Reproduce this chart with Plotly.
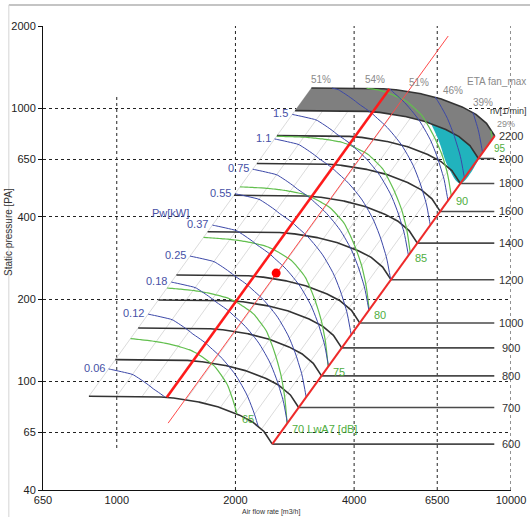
import numpy as np
import plotly.graph_objects as go

FONT = "Liberation Sans, Arial, sans-serif"

# ---------------- axes ----------------
x_tick_vals = [650, 1000, 2000, 4000, 6500, 10000]
y_tick_vals = [40, 65, 100, 200, 400, 650, 1000, 2000]
x_range = [650, 10000]
y_range = [40, 2000]
x_grid_full = [2000, 4000, 6500, 10000]
x_grid_partial = [1000]
x_grid_partial_p = [57, 1117]

# ---------------- fan characteristic at 600 rpm ----------------
base_speed = 600
base_q = [850, 1000, 1150, 1340, 1535, 1755, 1975, 2180, 2350, 2480]
base_p = [88.2, 88.2, 88.1, 87.5, 85.3, 81.8, 77.1, 72.1, 66.3, 58.9]
speeds = [600, 700, 800, 900, 1000, 1200, 1400, 1600, 1800, 2000, 2200]
speed_labels = ["600", "700", "800", "900", "1000", "1200", "1400", "1600", "1800", "2000", "2200"]
speed_line_end_q = 9070
speed_label_q = 10000

# shaft power at 600 rpm along the base curve
pw_q = [850, 1000, 1200, 1400, 1600, 1800, 2000, 2200, 2480]
pw_600 = [0.0425, 0.0455, 0.0545, 0.0635, 0.073, 0.084, 0.097, 0.113, 0.138]
pw_levels = [0.06, 0.12, 0.18, 0.25, 0.37, 0.55, 0.75, 1.1, 1.5, 2.2, 3.0, 4.0, 5.5]
pw_labels = ["0.06", "0.12", "0.18", "0.25", "0.37", "0.55", "0.75", "1.1", "1.5", "", "", "", ""]

# sound power at 600 rpm along the base curve, and its speed exponent
lw_q = [850, 1000, 1100, 1260, 1535, 1750, 1960, 2250, 2480]
lw_600 = [59.3, 59.65, 59.95, 60.5, 61.8, 63.1, 64.6, 66.6, 68.2]
lw_exp_q = [850, 2480]
lw_exp = [54, 48]
lw_levels = [65, 70, 75, 80, 85, 90, 95]
lw_labels = ["65", "70 LwA7 [dB]", "75", "80", "85", "90", "95"]

# system (efficiency) lines, given by their base flow at 600 rpm
sys_q = [850, 1000, 1160, 1330, 1500, 1670, 1830, 2000, 2180, 2330]
eta_q = [850, 1160, 1500, 1830, 2180, 2480]
eta_labels = ["51%", "54%", "51%", "46%", "39%", "29%"]

# operating point / system curves
op_line_qb = 1340
thin_red_q = [1350, 6930]
thin_red_p = [70.3, 1838]
op_q = [2537]
op_p = [249]

# cyan zone (left edge)
cyan_q = [6200, 6550, 6930, 7440]
cyan_p = [905, 764, 609, 530]

# ---------------- helpers (fan affinity laws) ----------------
r_max = max(speeds) / base_speed
lq, lp = np.log10(base_q), np.log10(base_p)


def p_on_base(qb):
    return 10 ** np.interp(np.log10(qb), lq, lp)


def at_speed_ratio(qb, r):
    qb = np.asarray(qb, dtype=float)
    return qb * r, p_on_base(qb) * r ** 2


qb_dense = np.geomspace(base_q[0], base_q[-1], 400)

fig = go.Figure()


def line(q, p, color, width, dash=None, shape="linear"):
    fig.add_trace(go.Scatter(x=list(q), y=list(p), mode="lines",
                             line=dict(color=color, width=width, dash=dash, shape=shape),
                             hoverinfo="skip", showlegend=False))


def thin(q, p, step=8):
    idx = list(range(0, len(q), step))
    if idx[-1] != len(q) - 1:
        idx.append(len(q) - 1)
    return [float(q[i]) for i in idx], [float(p[i]) for i in idx]


ann = []


def text(q, p, s, color, size=11, xanchor="center", yanchor="middle", xshift=0, yshift=0):
    ann.append(dict(x=float(np.log10(q)), y=float(np.log10(p)), xref="x", yref="y", text=s,
                    showarrow=False, font=dict(family=FONT, size=size, color=color),
                    xanchor=xanchor, yanchor=yanchor, xshift=xshift, yshift=yshift))


# vertical grid
for v in x_grid_full:
    line([v, v], y_range, "#222222", 1, "dot")
for v in x_grid_partial:
    line([v, v], x_grid_partial_p, "#222222", 1, "dot")

# system lines
for qb in sys_q:
    q0, p0 = at_speed_ratio(qb, 1.0)
    q1, p1 = at_speed_ratio(qb, r_max)
    line([q0, q1], [p0, p1], "#d2d2d2", 0.8)

# gray band between the two top speeds
qa, pa = at_speed_ratio(qb_dense, speeds[-1] / base_speed)
qb2, pb2 = at_speed_ratio(qb_dense, speeds[-2] / base_speed)
fig.add_trace(go.Scatter(x=list(qa) + list(qb2[::-1]), y=list(pa) + list(pb2[::-1]),
                         mode="lines", fill="toself", fillcolor="#7f7f7f",
                         line=dict(width=0), hoverinfo="skip", showlegend=False))

# cyan zone
m = qb2 >= cyan_q[0]
cq = list(cyan_q) + [float(x) for x in qb2[m][::-1]]
cp = list(cyan_p) + [float(x) for x in pb2[m][::-1]]
fig.add_trace(go.Scatter(x=cq, y=cp, mode="lines", fill="toself", fillcolor="#21b3bd",
                         line=dict(width=0, shape="spline"), hoverinfo="skip", showlegend=False))

# speed curves
for n, lab in zip(speeds, speed_labels):
    r = n / base_speed
    q, p = at_speed_ratio(qb_dense, r)
    if n != speeds[-1]:
        line([q[-1], speed_line_end_q], [p[-1], p[-1]], "#4a4a4a", 1.6)
    line(q, p, "#333333", 1.6)
    text(speed_label_q, p[-1], lab, "#333333", 11)

# sound curves
lw_d = np.interp(qb_dense, lw_q, lw_600)
k_d = np.interp(qb_dense, lw_exp_q, lw_exp)
for L, lab in zip(lw_levels, lw_labels):
    r = 10 ** ((L - lw_d) / k_d)
    mk = (r >= 1) & (r <= r_max)
    q = qb_dense[mk] * r[mk]
    p = p_on_base(qb_dense[mk]) * r[mk] ** 2
    tq, tp = thin(q, p)
    line(tq, tp, "#62bf4e", 1.2, shape="spline")
    if L == 95:
        text(q[-1], p[-1], lab, "#4fae3e", 10, xanchor="left", xshift=0, yshift=-9)
    else:
        text(q[-1], p[-1], lab, "#4fae3e", 11, xanchor="left", xshift=3, yshift=-5)

# power curves
pw_d = 10 ** np.interp(qb_dense, pw_q, np.log10(pw_600))
for P, lab in zip(pw_levels, pw_labels):
    r = (P / pw_d) ** (1 / 3)
    mk = (r >= 1) & (r <= r_max)
    q = qb_dense[mk] * r[mk]
    p = p_on_base(qb_dense[mk]) * r[mk] ** 2
    tq, tp = thin(q, p)
    line(tq, tp, "#3c48a8", 1.0, shape="spline")
    if lab:
        text(q[0], p[0], lab, "#4650a6", 11, xanchor="right", xshift=-2, yshift=1)
text(1365, 412, "Pw[kW]", "#4650a6", 11)

# red lines
q0, p0 = at_speed_ratio(base_q[-1], 1.0)
q1, p1 = at_speed_ratio(base_q[-1], r_max)
line([q0, q1], [p0, p1], "#ee2a2a", 2)
q0, p0 = at_speed_ratio(op_line_qb, 1.0)
q1, p1 = at_speed_ratio(op_line_qb, r_max)
line([q0, q1], [p0, p1], "#ff1a1a", 2.5)
line(thin_red_q, thin_red_p, "#ff4a4a", 1)
fig.add_trace(go.Scatter(x=op_q, y=op_p, mode="markers",
                         marker=dict(color="#ff0000", size=9), hoverinfo="skip", showlegend=False))

# efficiency labels
for qb, lab in zip(eta_q, eta_labels):
    qt, pt = at_speed_ratio(qb, r_max)
    if lab == eta_labels[-1] and qb == eta_q[-1]:
        text(float(qt), float(pt), lab, "#8a8a8a", 9, xshift=11, yshift=12)
    else:
        text(float(qt), float(pt), lab, "#8a8a8a", 10, xshift=10, yshift=9)

ann.append(dict(x=(528 - 43) / 468, y=float(np.log10(1257)), xref="paper", yref="y",
                text="ETA fan_max", showarrow=False, xanchor="right", yanchor="middle",
                font=dict(family=FONT, size=10, color="#8a8a8a")))
ann.append(dict(x=(529 - 43) / 468, y=float(np.log10(975)), xref="paper", yref="y",
                text="nv[1/min]", showarrow=False, xanchor="right", yanchor="middle",
                font=dict(family=FONT, size=9, color="#333333")))

ann.append(dict(x=-0.075, y=0.556, xref="paper", yref="paper", text="Static pressure [PA]",
                textangle=-90, showarrow=False, xanchor="center", yanchor="middle",
                font=dict(family=FONT, size=10, color="#333333")))
ann.append(dict(x=0.487, y=-0.047, xref="paper", yref="paper", text="Air flow rate [m3/h]",
                showarrow=False, xanchor="center", yanchor="middle",
                font=dict(family=FONT, size=7, color="#333333")))

fig.update_layout(
    width=530, height=517,
    margin=dict(l=43, r=19, t=26, b=27, autoexpand=False),
    paper_bgcolor="white", plot_bgcolor="white",
    annotations=ann,
    shapes=[
        dict(type="line", xref="paper", yref="paper", x0=-0.073, x1=1.1, y0=1.045, y1=1.045,
             line=dict(color="#c4c4c4", width=2)),
        dict(type="line", xref="paper", yref="paper", x0=-0.073, x1=-0.073, y0=1.045, y1=-0.06,
             line=dict(color="#d4d4d4", width=1)),
    ],
    xaxis=dict(type="log", range=[np.log10(x_range[0]), np.log10(x_range[1])],
               tickvals=x_tick_vals, ticktext=[str(v) for v in x_tick_vals], automargin=False,
               showgrid=False, zeroline=False, showline=True, linecolor="#111111", linewidth=1,
               ticks="",
               tickfont=dict(family=FONT, size=11, color="#222222")),
    yaxis=dict(type="log", range=[np.log10(y_range[0]), np.log10(y_range[1])],
               tickvals=y_tick_vals, ticktext=[str(v) for v in y_tick_vals], automargin=False,
               showgrid=True, gridcolor="#222222", griddash="dot", gridwidth=1,
               zeroline=False, showline=True, linecolor="#111111", linewidth=1,
               ticks="outside", ticklen=4, tickcolor="#111111",
               tickfont=dict(family=FONT, size=11, color="#222222")),
)

fig.write_html("out.html", config={"displayModeBar": False},
               post_script="document.body.style.margin='0';document.body.style.overflow='hidden';")
